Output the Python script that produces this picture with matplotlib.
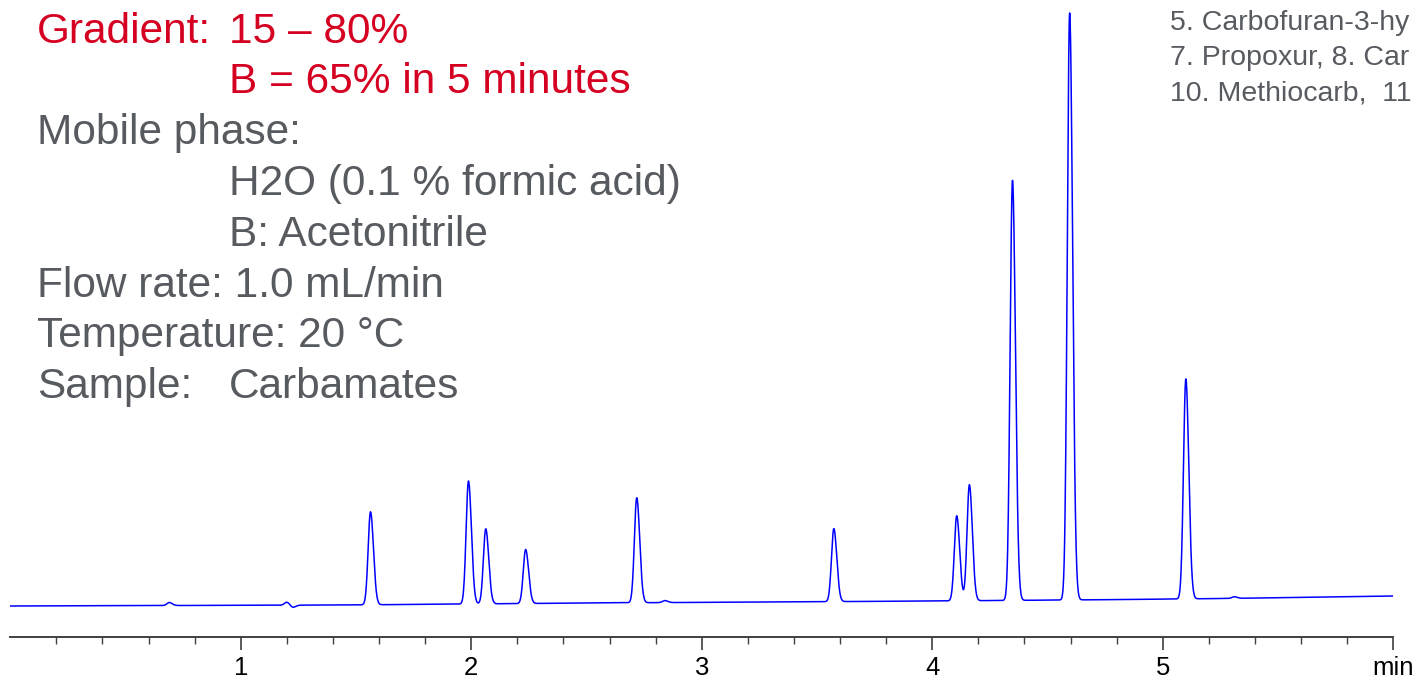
import numpy as np
import matplotlib.pyplot as plt

plt.rcParams['font.family'] = ['Liberation Sans', 'DejaVu Sans']

# peaks: retention time (min), height above baseline (mAU)
peak_times = [0.69, 1.200, 1.225, 1.563, 1.988, 2.063, 2.236, 2.718, 2.84,
              3.573, 4.106, 4.161, 4.348, 4.596, 5.100, 5.31]
peak_heights = [1.5, 1.5, -1.2, 46.5, 61.5, 37.5, 27.0, 52.5, 1.0,
                36.5, 42.5, 58.0, 210.0, 293.5, 110.0, 0.8]

# baseline drift read at a few points (min, mAU)
base_times = [0.0, 1.45, 2.5, 3.3, 4.0, 4.8, 5.3, 6.0]
base_levels = [0.0, 0.5, 1.5, 2.0, 2.5, 3.2, 3.8, 5.0]

xtick_pos = [1, 2, 3, 4, 5, 6]
xtick_labels = ['1', '2', '3', '4', '5', 'min']

red_lines = [('Gradient:', '15 \u2013 80%'), ('', 'B = 65% in 5 minutes')]
grey_lines = [('Mobile phase:', ''), ('', 'H2O (0.1 % formic acid)'),
              ('', 'B: Acetonitrile'), ('Flow rate: 1.0 mL/min', ''),
              ('Temperature: 20 \u00b0C', ''), ('Sample:', 'Carbamates')]
# peak list as far as it shows in the picture
peak_names = ['5. Carbofuran-3-hy',
              '7. Propoxur, 8. Car',
              '10. Methiocarb,  11']

W, H = 1416, 682
t = np.linspace(0, 6, 6001)
signal = np.interp(t, base_times, base_levels)
for rt, h in zip(peak_times, peak_heights):
    s = np.where(t < rt, 0.0102, 0.0128)   # slight tailing
    signal += h * np.exp(-0.5 * ((t - rt) / s) ** 2)

fig = plt.figure(figsize=(W / 100, H / 100), dpi=100)
ax = fig.add_axes([10.2 / W, 1 - 637 / H, (1393.3 - 10.2) / W, 637 / H])
ax.plot(t, signal, color='#0000ff', lw=1.1)
ax.set_xlim(0, 6)
ax.set_ylim(-15.5, 303)

for side in ['left', 'right', 'top']:
    ax.spines[side].set_visible(False)
ax.spines['bottom'].set_color('#404040')
ax.spines['bottom'].set_linewidth(1.4)
ax.set_yticks([])
ax.set_xticks(xtick_pos)
ax.set_xticklabels(xtick_labels)
ax.set_xticks(np.arange(0.2, 6, 0.2), minor=True)
ax.tick_params(axis='x', which='major', length=9.5, width=1.2, color='#404040',
               labelsize=18.5, pad=4, labelcolor='black')
ax.tick_params(axis='x', which='minor', length=5, width=1.0, color='#404040')
ax.patch.set_visible(False)

# method conditions, upper left
red = '#d50021'
grey = '#575b60'
baselines = [43, 93, 144, 195, 246, 297, 347, 398]
for (left, right), yb, col in zip(red_lines + grey_lines, baselines,
                                  [red] * 2 + [grey] * 6):
    if left:
        fig.text(37 / W, 1 - yb / H, left, color=col, fontsize=30.5, va='baseline')
    if right:
        fig.text(229 / W, 1 - yb / H, right, color=col, fontsize=30.5, va='baseline')

# peak list, upper right
for i, name in enumerate(peak_names):
    fig.text(1170 / W, 1 - (30 + 35 * i) / H, name, color=grey, fontsize=20.5,
             va='baseline')

fig.savefig('out.png', dpi=100)
